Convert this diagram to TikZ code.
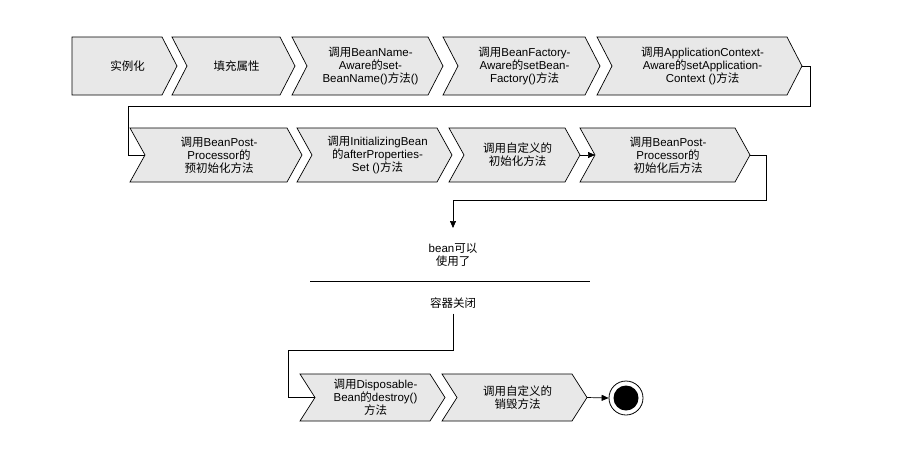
\documentclass[tikz,border=0pt]{standalone}
\usepackage{fontspec}
\setmainfont{Liberation Sans}
\newfontfamily\cjk{Noto Sans CJK SC}
\usetikzlibrary{arrows.meta}
\newcommand\C[1]{{\cjk #1}}
\tikzset{shp/.style={draw=black,fill=gray!18,line width=0.7pt},
 lbl/.style={align=center,font=\fontsize{11.5}{13}\selectfont,inner sep=0pt},
 con/.style={draw=black,line width=0.7pt},
 arr/.style={con,-{Triangle[length=7pt,width=6pt]}}}
% name, x1, x2, y1, y2, notch(0/1), text
\newcommand\chev[7]{%
  \pgfmathsetmacro\ym{(#4+#5)/2}%
  \ifnum#6=1
  \path[shp] (#2,#4) -- (#3-15,#4) -- (#3,\ym) -- (#3-15,#5) -- (#2,#5) -- (#2+15,\ym) -- cycle;
  \else
  \path[shp] (#2,#4) -- (#3-15,#4) -- (#3,\ym) -- (#3-15,#5) -- (#2,#5) -- cycle;
  \fi
  \node[lbl] (#1) at ({(#2+#3)/2+3},\ym) {#7};
  \coordinate (#1in) at (#2+15,\ym);
  \coordinate (#1out) at (#3,\ym);}
\begin{document}
\begin{tikzpicture}[x=1pt,y=-1pt]
\useasboundingbox (0,0) rectangle (920,456);
\chev{a1}{72}{177}{37}{95}{0}{\C{实例化}}
\chev{a2}{172}{295}{37}{95}{1}{\C{填充属性}}
\chev{a3}{292}{443}{37}{95}{1}{\C{调用}BeanName-\\Aware\C{的}set-\\BeanName()\C{方法}()}
\chev{a4}{443}{600}{37}{95}{1}{\C{调用}BeanFactory-\\Aware\C{的}setBean-\\Factory()\C{方法}}
\chev{a5}{597}{802}{37}{95}{1}{\C{调用}ApplicationContext-\\Aware\C{的}setApplication-\\Context ()\C{方法}}
\chev{b1}{130}{302}{128}{182}{1}{\C{调用}BeanPost-\\Processor\C{的}\\\C{预初始化方法}}
\chev{b2}{297}{452}{128}{182}{1}{\C{调用}InitializingBean\\\C{的}afterProperties-\\Set ()\C{方法}}
\chev{b3}{449}{580}{128}{182}{1}{\C{调用自定义的}\\\C{初始化方法}}
\chev{b4}{580}{750}{128}{182}{1}{\C{调用}BeanPost-\\Processor\C{的}\\\C{初始化后方法}}
\chev{c1}{300}{445}{374}{421}{1}{\C{调用}Disposable-\\Bean\C{的}destroy()\\\C{方法}}
\chev{c2}{442}{587}{374}{421}{1}{\C{调用自定义的}\\\C{销毁方法}}
\path[con] (a5out) -- (810,66) -- (810,106) -- (128,106) -- (128,155) -- (b1in);
\path[arr] (b3out) -- (b4in);
\node[lbl] (use) at (453,255) {bean\C{可以}\\\C{使用了}};
\coordinate (l1) at (310,281); \coordinate (l2) at (590,281);
\path[con] (l1) -- (l2);
\node[lbl] (close) at (453,303) {\C{容器关闭}};
\path[arr] (b4out) -- (766,155) -- (766,200) -- (453,200) -- (453,228);
\path[con] (close.south) ++(0,5) -- (453,350) -- (288,350) -- (288,397.5) -- (c1in);
\node[circle,draw=black,line width=0.8pt,minimum size=34pt,inner sep=0pt] (end) at (626,398) {};
\fill[black] (end.center) circle (12.5);
\path[arr] (c2out) -- (end.west);
\end{tikzpicture}
\end{document}
